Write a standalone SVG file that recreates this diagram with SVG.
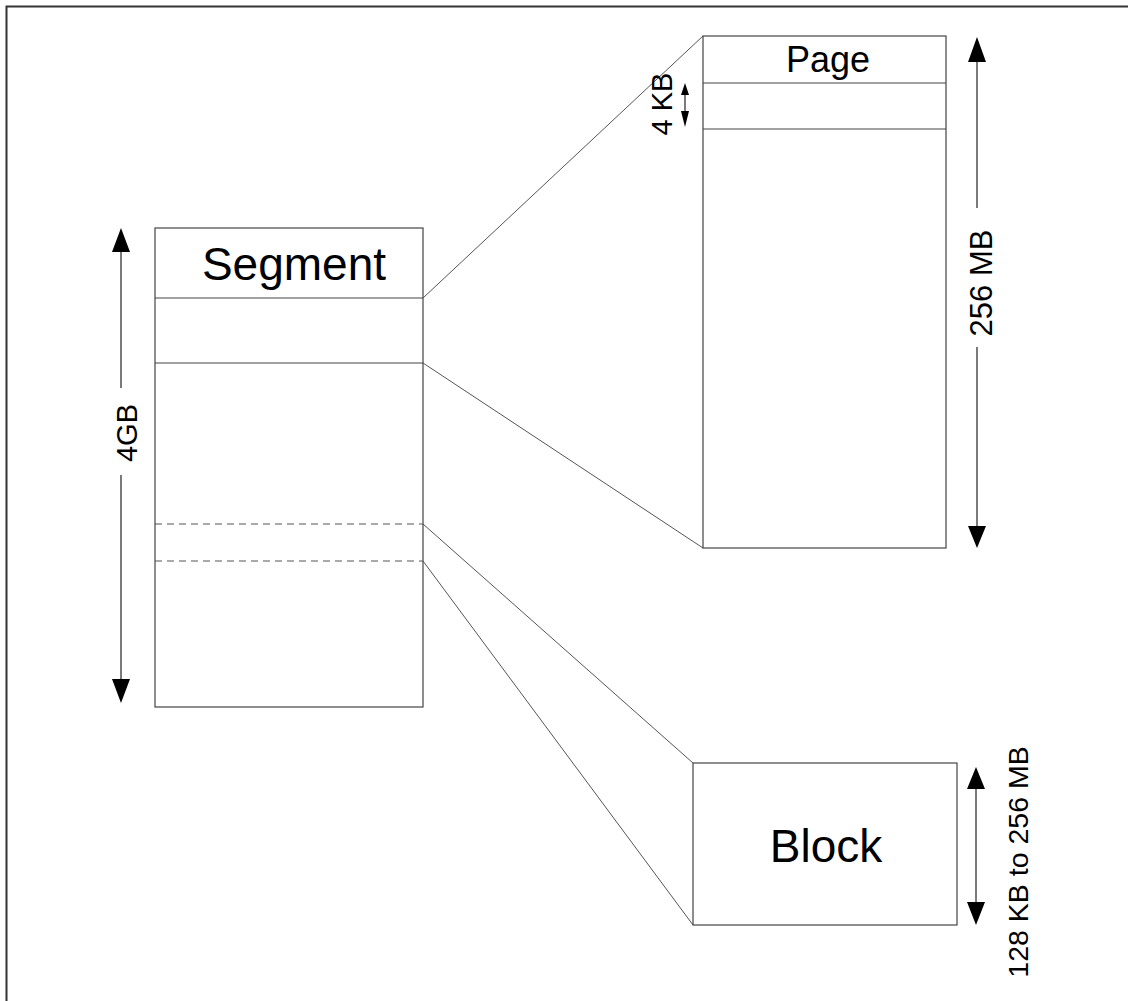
<svg xmlns="http://www.w3.org/2000/svg" width="1128" height="1001" viewBox="0 0 1128 1001">
<style>
.box{fill:#fff;stroke:#444;stroke-width:1.2}
.div{stroke:#444;stroke-width:1.2;fill:none}
.dash{stroke:#555;stroke-width:1.2;stroke-dasharray:7 5;fill:none}
.con{stroke:#555;stroke-width:1;fill:none}
.dim{stroke:#222;stroke-width:1.2;fill:none}
.head{fill:#000}
.t{font-family:"Liberation Sans",Arial,sans-serif;fill:#000;text-anchor:middle}
</style>
<rect width="1128" height="1001" fill="#fff"/>
<g id="border">
<path d="M6.5,1001 V6.5 H1128" fill="none" stroke="#333" stroke-width="2"/>
</g>
<g id="connectors">
<line class="con" x1="423" y1="298" x2="703" y2="36"/>
<line class="con" x1="423" y1="363" x2="703" y2="548"/>
<line class="con" x1="423" y1="524" x2="693" y2="763"/>
<line class="con" x1="423" y1="561" x2="693" y2="925"/>
</g>
<g id="segment">
<rect class="box" x="155" y="228" width="268" height="479"/>
<line class="div" x1="155" y1="298" x2="423" y2="298"/>
<line class="div" x1="155" y1="363" x2="423" y2="363"/>
<line class="dash" x1="155" y1="524" x2="423" y2="524"/>
<line class="dash" x1="155" y1="561" x2="423" y2="561"/>
<text class="t" x="294" y="280" font-size="46">Segment</text>
</g>
<g id="page">
<rect class="box" x="703" y="36" width="243" height="512"/>
<line class="div" x1="703" y1="83" x2="946" y2="83"/>
<line class="div" x1="703" y1="129" x2="946" y2="129"/>
<text class="t" x="828" y="72" font-size="36">Page</text>
</g>
<g id="block">
<rect class="box" x="693" y="763" width="264" height="162"/>
<text class="t" x="826" y="862" font-size="46">Block</text>
</g>
<g id="dim-4gb">
<line class="dim" x1="121" y1="250" x2="121" y2="388"/>
<line class="dim" x1="121" y1="475" x2="121" y2="682"/>
<polygon class="head" points="121,228 112,252 130,252"/>
<polygon class="head" points="121,703 112,679 130,679"/>
<text class="t" font-size="29" transform="translate(137,433) rotate(-90)">4GB</text>
</g>
<g id="dim-256mb">
<line class="dim" x1="977" y1="60" x2="977" y2="208"/>
<line class="dim" x1="977" y1="347" x2="977" y2="528"/>
<polygon class="head" points="977,37 968,62 986,62"/>
<polygon class="head" points="977,548 968,526 986,526"/>
<text class="t" font-size="31" transform="translate(992,283) rotate(-90)">256 MB</text>
</g>
<g id="dim-4kb">
<line class="dim" x1="685" y1="93" x2="685" y2="113"/>
<polygon class="head" points="685,83 681,95 689,95"/>
<polygon class="head" points="685,127 681,111 689,111"/>
<text class="t" font-size="29" transform="translate(672,104) rotate(-90)">4 KB</text>
</g>
<g id="dim-block">
<line class="dim" x1="976" y1="785" x2="976" y2="905"/>
<polygon class="head" points="976,767 967,789 985,789"/>
<polygon class="head" points="976,925 967,902 985,902"/>
<text class="t" font-size="28.5" transform="translate(1028,862) rotate(-90)">128 KB to 256 MB</text>
</g>
</svg>
